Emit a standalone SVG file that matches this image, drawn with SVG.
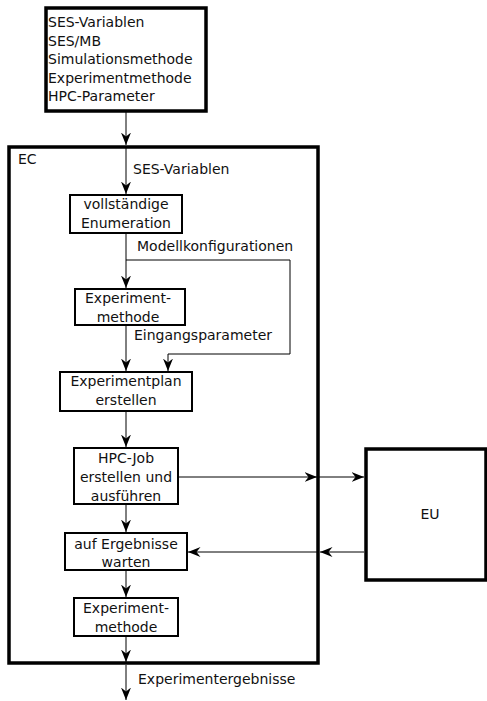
<svg xmlns="http://www.w3.org/2000/svg" width="487" height="701" viewBox="0 0 487 701">
<style>
text{font-family:"DejaVu Sans",sans-serif;font-size:14px;fill:#111}
.c{text-anchor:middle}
.thick{fill:#fff;stroke:#000;stroke-width:3.5}
.box{fill:#fff;stroke:#000;stroke-width:2}
.ln{fill:none;stroke:#000;stroke-width:1}
</style>
<defs>
<marker id="ah" markerUnits="userSpaceOnUse" markerWidth="14" markerHeight="14" viewBox="0 0 14 14" refX="12.5" refY="7" orient="auto">
<path d="M0,2 L12.5,7 L0,12 L4,7 z" fill="#000"/>
</marker>
</defs>
<g id="ec">
<rect class="thick" x="9" y="147" width="309" height="516"/>
<text x="18" y="164">EC</text>
</g>
<g id="input">
<rect class="thick" x="46" y="8" width="160" height="103"/>
<text x="48" y="27">SES-Variablen</text>
<text x="48" y="45.5">SES/MB</text>
<text x="48" y="64">Simulationsmethode</text>
<text x="48" y="82.5">Experimentmethode</text>
<text x="48" y="101">HPC-Parameter</text>
</g>
<g id="eu">
<rect class="thick" x="366" y="449" width="120" height="131"/>
<text class="c" x="430" y="519">EU</text>
</g>
<g id="enum">
<rect class="box" x="70" y="195" width="112" height="38"/>
<text class="c" x="126" y="209">vollständige</text>
<text class="c" x="126" y="228">Enumeration</text>
</g>
<g id="method1">
<rect class="box" x="75" y="289" width="110" height="36"/>
<text class="c" x="128" y="303">Experiment-</text>
<text class="c" x="128" y="322">methode</text>
</g>
<g id="plan">
<rect class="box" x="60" y="372" width="132" height="39"/>
<text class="c" x="126" y="386">Experimentplan</text>
<text class="c" x="126" y="405">erstellen</text>
</g>
<g id="hpc">
<rect class="box" x="74" y="448" width="104" height="56"/>
<text class="c" x="126" y="463">HPC-Job</text>
<text class="c" x="126" y="482">erstellen und</text>
<text class="c" x="126" y="501">ausführen</text>
</g>
<g id="wait">
<rect class="box" x="65" y="533" width="122" height="37"/>
<text class="c" x="126" y="549">auf Ergebnisse</text>
<text class="c" x="126" y="567">warten</text>
</g>
<g id="method2">
<rect class="box" x="74" y="598" width="104" height="38"/>
<text class="c" x="126" y="613">Experiment-</text>
<text class="c" x="126" y="632">methode</text>
</g>
<g id="connectors">
<path class="ln" d="M126,111 V145" marker-end="url(#ah)"/>
<path class="ln" d="M126,148 V194" marker-end="url(#ah)"/>
<text x="133" y="174">SES-Variablen</text>
<path class="ln" d="M126,234 V288" marker-end="url(#ah)"/>
<path class="ln" d="M126,260 H290 V354 H168 V371" marker-end="url(#ah)"/>
<text x="137" y="251">Modellkonfigurationen</text>
<path class="ln" d="M126,326 V371" marker-end="url(#ah)"/>
<text x="134" y="340">Eingangsparameter</text>
<path class="ln" d="M126,412 V447" marker-end="url(#ah)"/>
<path class="ln" d="M179,477 H317" marker-end="url(#ah)"/>
<path class="ln" d="M319,477 H364" marker-end="url(#ah)"/>
<path class="ln" d="M126,505 V532" marker-end="url(#ah)"/>
<path class="ln" d="M364,552 H320" marker-end="url(#ah)"/>
<path class="ln" d="M317,552 H188" marker-end="url(#ah)"/>
<path class="ln" d="M126,571 V597" marker-end="url(#ah)"/>
<path class="ln" d="M126,637 V662" marker-end="url(#ah)"/>
<path class="ln" d="M126,665 V700" marker-end="url(#ah)"/>
<text x="138" y="684">Experimentergebnisse</text>
</g>
</svg>
